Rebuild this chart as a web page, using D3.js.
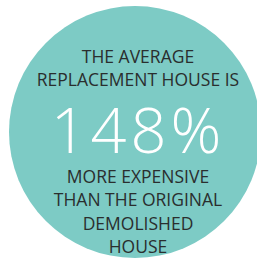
<!DOCTYPE html>
<html>
<head>
<meta charset="utf-8">
<script src="https://cdn.jsdelivr.net/npm/d3@7"></script>
<style>
  html, body { margin: 0; padding: 0; background: #fff; overflow: hidden; }
</style>
</head>
<body>
<div id="vis"></div>
<script>
  "use strict";
  const [width, height] = [257, 259];
  // text content
  const topLines = ["THE AVERAGE", "REPLACEMENT HOUSE IS"];
  const bigValue = 148;
  const bottomLines = ["MORE EXPENSIVE", "THAN THE ORIGINAL", "DEMOLISHED", "HOUSE"];

  const svg = d3.select('#vis').append('svg')
    .attr('width', width).attr('height', height);

  svg.append('circle')
    .attr('cx', 135).attr('cy', 132).attr('r', 126)
    .attr('fill', '#7dcbc5');

  const font = "'Open Sans', sans-serif";
  const fmt = d3.format('d');

  svg.selectAll('text.top')
    .data(topLines)
    .join('text')
      .attr('class', 'top')
      .attr('x', 138)
      .attr('y', (d, i) => 63 + i * 23)
      .attr('text-anchor', 'middle')
      .attr('font-family', font)
      .attr('font-weight', 500)
      .attr('font-size', 17.5)
      .attr('fill', '#2a2e2e')
      .text(d => d);

  svg.append('text')
    .attr('x', 138).attr('y', 153)
    .attr('text-anchor', 'middle')
    .attr('font-family', font)
    .attr('font-weight', 300)
    .attr('font-size', 63)
    .attr('letter-spacing', 4)
    .attr('fill', '#fff')
    .text(fmt(bigValue) + '%');

  svg.selectAll('text.bot')
    .data(bottomLines)
    .join('text')
      .attr('class', 'bot')
      .attr('x', 138)
      .attr('y', (d, i) => 183 + i * 23.4)
      .attr('text-anchor', 'middle')
      .attr('font-family', font)
      .attr('font-weight', 500)
      .attr('font-size', 17.5)
      .attr('fill', '#2a2e2e')
      .text(d => d);
</script>
</body>
</html>
